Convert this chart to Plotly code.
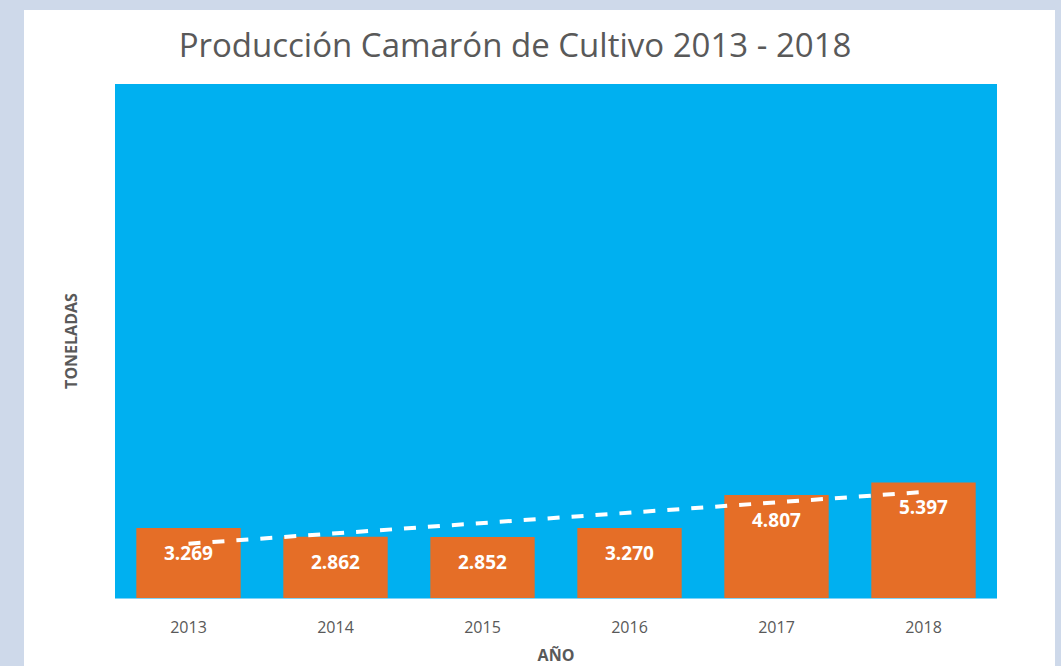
import plotly.graph_objects as go
import numpy as np

years = ["2013", "2014", "2015", "2016", "2017", "2018"]
toneladas = [3269, 2862, 2852, 3270, 4807, 5397]

title_text = "Producción Camarón de Cultivo 2013 - 2018"
x_title = "AÑO"
y_title = "TONELADAS"

def fmt(v):
    return f"{v:,}".replace(",", ".")

# linear trend line (least squares)
xi = np.arange(len(toneladas))
slope, intercept = np.polyfit(xi, toneladas, 1)
trend = [float(intercept + slope * i) for i in xi]

fig = go.Figure()
fig.add_trace(go.Bar(
    x=years, y=toneladas,
    marker=dict(color="#E56E27", line=dict(width=0)),
    hoverinfo="x+y",
))
fig.add_trace(go.Scatter(
    x=years, y=trend, mode="lines",
    line=dict(color="white", width=4, dash="dash"),
    hoverinfo="skip",
))

for i, v in enumerate(toneladas):
    fig.add_annotation(
        x=i, y=v, text=f"<b>{fmt(v)}</b>", showarrow=False,
        yshift=-25, font=dict(color="white", size=19, family="Open Sans"),
    )

W, H = 1061, 666
L, R, T, B = 115, 64, 84, 68
pw, ph = W - L - R, H - T - B
def px(xp):
    return (xp - L) / pw
def py(yp):
    return (H - B - yp) / ph

frame = "#CED9EA"
# frame strips around the white canvas
for x0, x1, y0, y1 in [(0, 24, 0, H), (0, W, 0, 10), (1055, W, 0, H)]:
    fig.add_shape(type="rect", xref="paper", yref="paper",
                  x0=px(x0), x1=px(x1), y0=py(y1), y1=py(y0),
                  fillcolor=frame, line=dict(width=0), layer="below")

fig.update_layout(
    width=W, height=H,
    margin=dict(l=L, r=R, t=T, b=B, autoexpand=False),
    paper_bgcolor="white",
    plot_bgcolor="#00B0F0",
    showlegend=False,
    bargap=0.29,
    title=dict(text=title_text, x=515 / W, xanchor="center",
               y=1 - 45 / H, yanchor="middle",
               font=dict(size=33, color="#595959", family="Open Sans")),
    xaxis=dict(
        type="category", automargin=False,
        showgrid=False, zeroline=False,
        showline=True, linecolor="#7FD3F7", linewidth=1,
        tickfont=dict(size=16, color="#595959", family="Open Sans"),
        ticks="outside", ticklen=15, tickcolor="rgba(0,0,0,0)",
        title=dict(text=f"<b>{x_title}</b>", standoff=14,
                   font=dict(size=16, color="#595959", family="Open Sans")),
    ),
    yaxis=dict(
        range=[0, 24000], automargin=False,
        showgrid=False, zeroline=False,
        showticklabels=False, ticks="",
        title=dict(text=f"<b>{y_title}</b>", standoff=32,
                   font=dict(size=16, color="#595959", family="Open Sans")),
    ),
    font=dict(family="Open Sans"),
)

fig.write_html("out.html", config={"displayModeBar": False},
               post_script="document.body.style.margin='0';")
